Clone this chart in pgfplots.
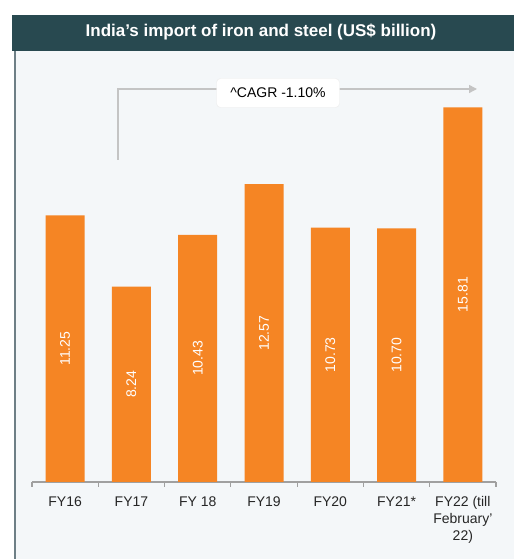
\documentclass[border=0pt]{standalone}
\usepackage{fontspec}
\setmainfont{Liberation Sans}
\usepackage{pgfplots}
\pgfplotsset{compat=1.18}
\usepackage{pgfplotstable}
\usetikzlibrary{arrows.meta}
\definecolor{barorange}{HTML}{F58524}
\definecolor{titlebg}{HTML}{284950}
\definecolor{panelbg}{HTML}{F4F7F9}
\definecolor{arrowgray}{HTML}{C4C4C4}
\definecolor{axisgray}{HTML}{A0A0A0}
\definecolor{labelcol}{HTML}{262626}
\definecolor{bordergray}{HTML}{6E7F86}

\pgfplotstableread{
x v
0 11.25
1 8.24
2 10.43
3 12.57
4 10.73
5 10.70
6 15.81
}\imports

\begin{document}
\begin{tikzpicture}[x=1pt,y=1pt]
\path[use as bounding box] (0,0) rectangle (514,559);
\fill[white] (0,0) rectangle (514,559);
\fill[panelbg] (15,0) rectangle (514,508);
\fill[titlebg] (12,508) rectangle (514,544);
\draw[bordergray, line width=1.5] (15,0) -- (15,508);
\node[white, font=\bfseries\fontsize{17}{20}\selectfont] at (261,527) {India's import of iron and steel (US\$ billion)};
\begin{axis}[
  scale only axis, width=464pt, height=432pt,
  at={(32pt,77pt)}, anchor=south west,
  xmin=-0.5, xmax=6.5, ymin=0, ymax=18.23,
  axis y line=none, axis x line*=bottom,
  x axis line style={axisgray, line width=1.2pt, -},
  xtick={0,...,6},
  xticklabels={FY16, FY17, FY 18, FY19, FY20, FY21*, {FY22 (till\\February'\\22)}},
  major tick length=0pt,
  extra x ticks={-0.5,0.5,...,6.5},
  extra x tick labels={},
  extra x tick style={major tick length=5pt, tick align=outside, tick style={axisgray, line width=1.2pt}},
  xticklabel style={align=center, font=\fontsize{14}{17}\selectfont, text=labelcol, yshift=-11pt},
  clip=false,
]
\addplot[ybar, bar width=39pt, fill=barorange, draw=none] table[x=x, y=v]{\imports};
\addplot[only marks, mark=none, point meta=\thisrow{v},
  nodes near coords={\pgfmathprintnumber[fixed, fixed zerofill, precision=2, assume math mode=true]{\pgfplotspointmeta}},
  every node near coord/.style={rotate=90, anchor=center, text=white, font=\fontsize{14}{16}\selectfont}]
  table[x=x, y expr=\thisrow{v}/2]{\imports};
\end{axis}
\draw[arrowgray, line width=1.5, -{Triangle[length=8pt,width=8pt]}] (118,399) -- (118,470) -- (477,470);
\node[fill=white, rounded corners=4pt, draw=gray!15, minimum width=123, minimum height=29, font=\fontsize{14}{16}\selectfont] at (278,466) {\textasciicircum CAGR -1.10\%};
\end{tikzpicture}
\end{document}
